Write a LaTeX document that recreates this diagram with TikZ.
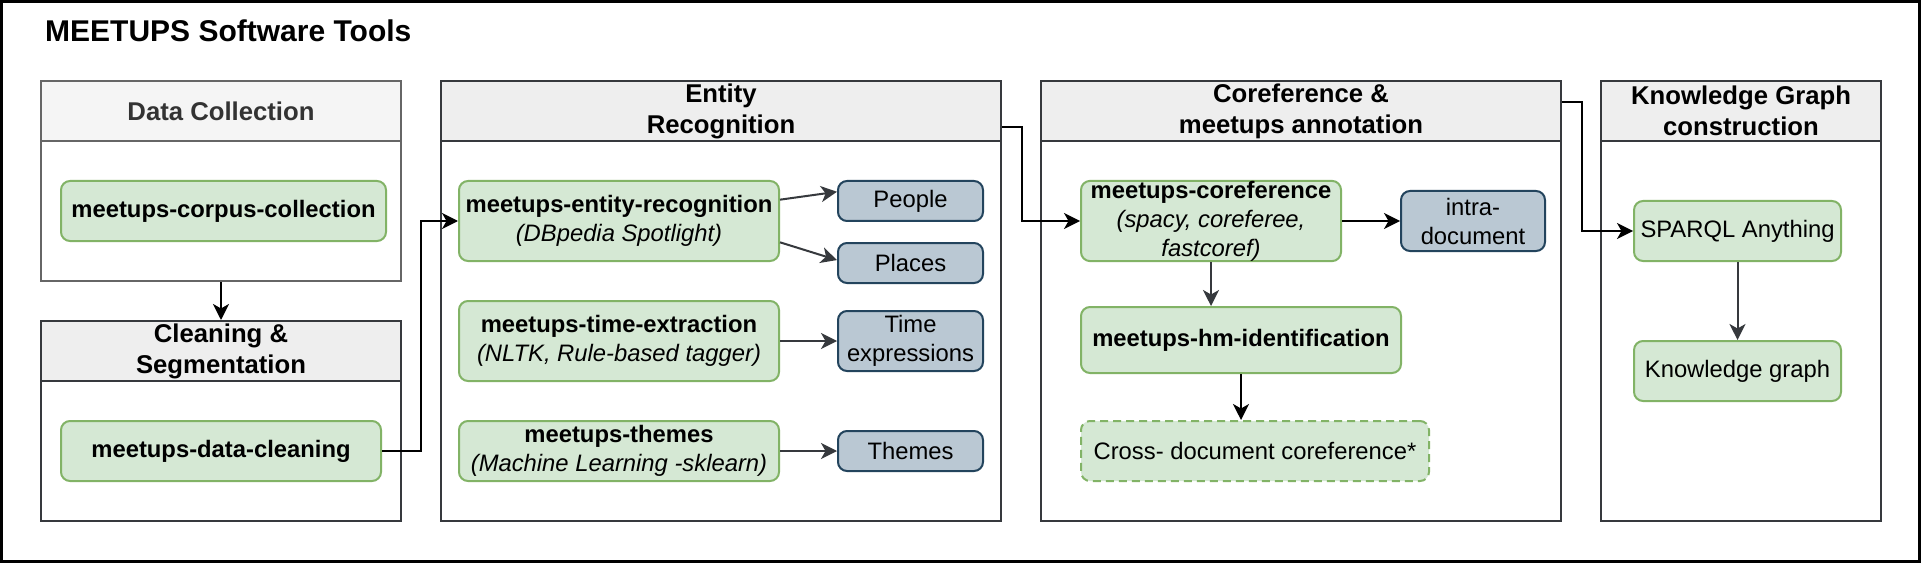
\documentclass[tikz,border=0pt]{standalone}
\usepackage{fontspec}
\setmainfont{Liberation Sans}
\usetikzlibrary{arrows.meta,calc}
\definecolor{gfill}{HTML}{D5E8D4}
\definecolor{gline}{HTML}{82B366}
\definecolor{bfill}{HTML}{BAC8D3}
\definecolor{bline}{HTML}{23445D}
\definecolor{dk}{HTML}{36393D}
\definecolor{hdr}{HTML}{EEEEEE}
\definecolor{hdrlight}{HTML}{F5F5F5}
\definecolor{greyline}{HTML}{666666}
\definecolor{greytext}{HTML}{333333}
\begin{document}
\begin{tikzpicture}[x=1pt,y=-1pt,
  lane/.style={draw=dk, line width=2pt, fill=white, inner sep=0pt},
  lanehead/.style={draw=dk, line width=2pt, fill=hdr, inner sep=0pt, align=center,
    minimum height=60pt, font=\fontsize{25.7}{31}\selectfont\bfseries},
  gnode/.style={draw=gline, fill=gfill, line width=2pt, rounded corners=9pt, inner sep=0pt,
    align=center, font=\fontsize{23.8}{29}\selectfont},
  bnode/.style={draw=bline, fill=bfill, line width=2pt, rounded corners=9pt, inner sep=0pt,
    align=center, font=\fontsize{23.8}{29}\selectfont},
  arr/.style={line width=2pt, -{Stealth[length=16pt,width=16pt,inset=4.5pt]}},
  darr/.style={arr, draw=dk},
  barr/.style={arr, draw=black},
]
\useasboundingbox (0,0) rectangle (1922,564);
\draw[line width=2.5pt] (1.5,1.5) rectangle (1919.5,561.5);

\node[anchor=base west, inner sep=0pt, font=\fontsize{30}{36}\selectfont\bfseries] (title) at (45,42) {MEETUPS Software Tools};

% containers
\node[lane, draw=greyline, minimum width=360pt, minimum height=200pt] (dcbox) at (221,181) {};
\node[lanehead, fill=hdrlight, draw=greyline, text=greytext, minimum width=360pt] (dchead) at (221,111) {Data Collection};

\node[lane, minimum width=360pt, minimum height=200pt] (csbox) at (221,421) {};
\node[lanehead, minimum width=360pt] (cshead) at (221,351) {Cleaning \&\\Segmentation};

\node[lane, minimum width=560pt, minimum height=440pt] (erbox) at (721,301) {};
\node[lanehead, minimum width=560pt] (erhead) at (721,111) {Entity\\Recognition};

\node[lane, minimum width=520pt, minimum height=440pt] (cobox) at (1301,301) {};
\node[lanehead, minimum width=520pt] (cohead) at (1301,111) {Coreference \&\\meetups annotation};

\node[lane, minimum width=280pt, minimum height=440pt] (kgbox) at (1741,301) {};
\node[lanehead, minimum width=280pt] (kghead) at (1741,111) {Knowledge Graph\\construction};

% nodes
\node[gnode, minimum width=325pt, minimum height=60pt] (corpus) at (223.5,211) {\textbf{meetups-corpus-collection}};
\node[gnode, minimum width=320pt, minimum height=60pt] (dclean) at (221,451) {\textbf{meetups-data-cleaning}};

\node[gnode, minimum width=320pt, minimum height=80pt] (er) at (619,221) {\textbf{meetups-entity-recognition}\\\textit{(DBpedia Spotlight)}};
\node[gnode, minimum width=320pt, minimum height=80pt] (time) at (619,341) {\textbf{meetups-time-extraction}\\\textit{(NLTK, Rule-based tagger)}};
\node[gnode, minimum width=320pt, minimum height=60pt] (themes) at (619,451) {\textbf{meetups-themes}\\\textit{(Machine Learning -sklearn)}};

\node[bnode, minimum width=145pt, minimum height=40pt] (people) at (910.5,201) {People};
\node[bnode, minimum width=145pt, minimum height=40pt] (places) at (910.5,263) {Places};
\node[bnode, minimum width=145pt, minimum height=60pt] (timeexp) at (910.5,341) {Time\\expressions};
\node[bnode, minimum width=145pt, minimum height=40pt] (themesb) at (910.5,451) {Themes};

\node[gnode, minimum width=260pt, minimum height=80pt] (coref) at (1211,221) {\textbf{meetups-coreference}\\\textit{(spacy, coreferee,}\\\textit{fastcoref)}};
\node[bnode, minimum width=144pt, minimum height=60pt] (intra) at (1473,221) {intra-\\document};
\node[gnode, minimum width=320pt, minimum height=66pt] (hm) at (1241,340) {\textbf{meetups-hm-identification}};
\node[gnode, dash pattern=on 8pt off 5pt, minimum width=348pt, minimum height=60pt] (cross) at (1255,451) {Cross- document coreference*};

\node[gnode, minimum width=207pt, minimum height=60pt] (sparql) at (1737.5,231) {SPARQL Anything};
\node[gnode, minimum width=207pt, minimum height=60pt] (kgn) at (1737.5,371) {Knowledge graph};

% connectors
\draw[barr] (dcbox.south) -- (cshead.north);
\draw[barr] (dclean.east) -- ++(39,0) |- (er.west);
\draw[darr] ($(er.north east)!0.24!(er.south east)$) -- ($(people.north west)!0.28!(people.south west)$);
\draw[darr] ($(er.north east)!0.76!(er.south east)$) -- ($(places.north west)!0.43!(places.south west)$);
\draw[darr] (time.east) -- (timeexp.west);
\draw[darr] (themes.east) -- (themesb.west);
\coordinate (erout) at ($(erhead.east)+(0,16)$);
\draw[barr] (erout) -- ++(20,0) |- (coref.west);
\draw[barr] (coref.east) -- (intra.west);
\draw[darr] (coref.south) -- (coref.south |- hm.north);
\draw[barr] (hm.south) -- (hm.south |- cross.north);
\coordinate (coout) at ($(cohead.east)+(0,-9)$);
\draw[barr] (coout) -- ++(20,0) |- (sparql.west);
\draw[darr] (sparql.south) -- (kgn.north);
\end{tikzpicture}
\end{document}
